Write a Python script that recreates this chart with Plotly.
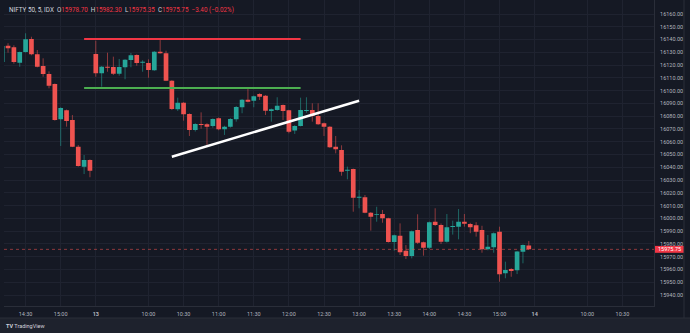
import plotly.graph_objects as go

# ---------------- data ----------------
bar_index = list(range(-16, 75))  # 0 = 13th 09:15, negatives = 12th afternoon

opens = [16122.4, 16135.2, 16133.9, 16121.9, 16130.3, 16140.4, 16128.4, 16119.3,
         16113.0, 16105.2, 16077.6, 16084.6, 16077.0, 16056.1, 16040.5, 16045.7,
         16128.7, 16113.6, 16118.7, 16118.5, 16113.3, 16118.3, 16124.0, 16127.9,
         16121.8, 16121.6, 16115.9, 16130.5, 16129.2, 16107.8, 16085.4, 16090.6,
         16081.7, 16069.2, 16073.9, 16073.6, 16072.3, 16078.3, 16069.7, 16071.8,
         16077.6, 16086.9, 16092.9, 16092.1, 16097.4, 16096.0, 16084.1, 16084.8,
         16088.8, 16084.6, 16068.7, 16072.3, 16084.1, 16084.8, 16080.1, 16074.4,
         16071.8, 16056.1, 16053.5, 16037.3, 16038.6, 16016.2, 16016.5, 16004.4,
         16002.6, 16003.4, 16000.0, 15981.5, 15986.4, 15974.7, 15970.5, 15990.9,
         15981.3, 15977.0, 15997.4, 15994.8, 15981.7, 15993.3, 15993.5, 15997.4,
         15995.6, 15994.6, 15990.9, 15975.8, 15977.3, 15989.6, 15957.0, 15960.4,
         15959.4, 15973.9, 15978.70]
highs = [16135.5, 16137.1, 16135.5, 16130.6, 16144.9, 16142.2, 16131.8, 16125.3,
         16115.1, 16105.6, 16087.0, 16085.2, 16080.9, 16057.4, 16049.6, 16046.2,
         16139.1, 16119.3, 16129.7, 16126.6, 16124.8, 16124.6, 16129.5, 16128.4,
         16123.8, 16124.5, 16131.0, 16139.6, 16131.3, 16108.2, 16094.5, 16091.0,
         16082.2, 16074.5, 16083.0, 16074.5, 16078.3, 16079.0, 16072.5, 16078.5,
         16088.0, 16093.5, 16101.8, 16096.2, 16098.0, 16096.5, 16086.0, 16094.8,
         16089.2, 16085.0, 16073.0, 16094.5, 16094.8, 16090.1, 16090.1, 16075.0,
         16072.2, 16064.5, 16057.2, 16040.5, 16039.0, 16022.2, 16018.3, 16005.0,
         16009.1, 16006.6, 16000.5, 15987.3, 15996.1, 15979.1, 15990.5, 16003.2,
         15981.8, 15997.5, 16007.9, 15996.0, 16003.4, 15998.2, 16007.3, 16003.4,
         15996.5, 15997.0, 15994.2, 15987.0, 15989.0, 15993.5, 15966.1, 15961.0,
         15974.5, 15979.6, 15982.30]
lows = [16121.5, 16129.7, 16121.1, 16118.7, 16129.8, 16127.7, 16118.2, 16110.9,
        16101.8, 16076.5, 16056.7, 16071.8, 16055.8, 16040.5, 16034.7, 16032.2,
        16110.9, 16103.1, 16114.8, 16112.2, 16111.7, 16108.9, 16118.3, 16119.5,
        16114.8, 16110.1, 16115.5, 16129.0, 16107.5, 16084.8, 16084.1, 16076.5,
        16064.5, 16068.0, 16070.2, 16057.4, 16071.0, 16069.0, 16065.3, 16071.0,
        16075.7, 16082.3, 16090.8, 16087.0, 16092.7, 16080.9, 16075.7, 16084.3,
        16077.0, 16066.6, 16066.1, 16072.0, 16082.7, 16075.7, 16073.2, 16064.5,
        16055.2, 16050.9, 16033.4, 16030.6, 16005.2, 16007.9, 16004.0, 15990.4,
        15997.4, 15996.6, 15981.0, 15974.7, 15971.3, 15968.2, 15968.7, 15980.0,
        15970.8, 15976.0, 15994.0, 15979.9, 15981.0, 15987.3, 15983.6, 15993.5,
        15988.4, 15985.7, 15973.1, 15975.0, 15973.1, 15950.4, 15953.1, 15954.3,
        15956.4, 15964.8, 15975.35]
closes = [16134.9, 16133.1, 16122.4, 16130.3, 16140.2, 16128.4, 16118.7, 16113.0,
          16103.9, 16077.0, 16086.4, 16076.2, 16056.1, 16041.0, 16045.7, 16037.3,
          16113.6, 16118.7, 16117.9, 16113.3, 16118.5, 16124.2, 16127.7, 16121.6,
          16122.6, 16116.2, 16130.5, 16129.2, 16107.8, 16085.6, 16090.6, 16081.5,
          16069.2, 16073.9, 16073.1, 16071.8, 16077.8, 16069.7, 16071.8, 16077.8,
          16087.2, 16092.9, 16091.3, 16095.6, 16095.3, 16084.3, 16085.4, 16088.2,
          16084.1, 16067.9, 16072.3, 16084.8, 16084.9, 16080.1, 16073.6, 16071.8,
          16055.6, 16054.1, 16036.5, 16038.1, 16016.2, 16017.0, 16004.4, 16001.3,
          16003.3, 16000.0, 15981.5, 15986.7, 15973.4, 15970.5, 15989.9, 15981.0,
          15977.0, 15996.9, 15994.8, 15981.7, 15993.0, 15994.0, 15997.4, 15995.8,
          15993.0, 15989.6, 15975.8, 15977.8, 15988.3, 15956.2, 15959.6, 15958.8,
          15974.0, 15979.15, 15975.75]

x_tick_vals = [-12, -6, 0, 9, 15, 21, 27, 33, 39, 45, 51, 57, 63, 69, 75, 84, 90]
x_tick_text = ["14:30", "15:00", "<b>13</b>", "10:00", "10:30", "11:00", "11:30",
               "12:00", "12:30", "13:00", "13:30", "14:00", "14:30", "15:00",
               "<b>14</b>", "10:00", "10:30"]
price_ticks = [15940, 15950, 15960, 15970, 15980, 15990, 16000, 16010, 16020,
               16030, 16040, 16050, 16060, 16070, 16080, 16090, 16100, 16110,
               16120, 16130, 16140, 16150, 16160]

resistance_x = [-2, 35]
resistance_y = [16140.4, 16140.4]
support_x = [-2, 35]
support_y = [16102.1, 16102.1]
trend_x = [13, 45]
trend_y = [16048.3, 16092.1]

symbol = "NIFTY 50, 5, IDX"

# ---------------- style ----------------
BG = "#151924"
GRID = "#1f2330"
BORDER = "#2a2e39"
TEXT = "#b2b5be"
UP = "#26a69a"
DOWN = "#ef5350"
FONT = "Roboto"

W, H = 690, 333
L, R, T, B = 4, 36, 0, 27
pw = W - L - R
ph = H - T - B


def px_x(p):
    return (p - L) / pw


def px_y(p):
    return (ph - p) / ph


fig = go.Figure()

# wicks (dimmer than bodies)
for colour, is_up in ((DOWN, False), (UP, True)):
    wx, wy = [], []
    for i, o, h, lo, c in zip(bar_index, opens, highs, lows, closes):
        if (c >= o) == is_up:
            wx += [i, i, None]
            wy += [lo, h, None]
    fig.add_trace(go.Scatter(x=wx, y=wy, mode="lines",
                             line=dict(color=colour, width=1),
                             opacity=0.55, hoverinfo="skip", showlegend=False))

fig.add_trace(go.Candlestick(
    x=bar_index, open=opens, high=highs, low=lows, close=closes,
    increasing=dict(line=dict(color=UP, width=0), fillcolor=UP),
    decreasing=dict(line=dict(color=DOWN, width=0), fillcolor=DOWN),
    showlegend=False, hoverinfo="skip"))

# drawings
fig.add_trace(go.Scatter(x=resistance_x, y=resistance_y, mode="lines",
                         line=dict(color="#f23645", width=2), showlegend=False,
                         hoverinfo="skip"))
fig.add_trace(go.Scatter(x=support_x, y=support_y, mode="lines",
                         line=dict(color="#4caf50", width=2), showlegend=False,
                         hoverinfo="skip"))
fig.add_trace(go.Scatter(x=trend_x, y=trend_y, mode="lines",
                         line=dict(color="#ffffff", width=2.5), showlegend=False,
                         hoverinfo="skip"))

last_close = closes[-1]
prev_close = closes[-2]
chg = last_close - prev_close
pct = chg / prev_close * 100

shapes = [
    # current price dotted line
    dict(type="line", xref="paper", yref="y", x0=0, x1=1, y0=last_close, y1=last_close,
         line=dict(color="rgba(239,83,80,0.55)", width=1, dash="dot")),
    # price tag
    dict(type="rect", xref="paper", yref="y", x0=px_x(655), x1=px_x(684),
         y0=last_close - 2.7, y1=last_close + 2.7,
         fillcolor="#f23645", line=dict(width=0)),
    # pane borders
    dict(type="line", xref="paper", yref="paper", x0=px_x(684), x1=px_x(684),
         y0=px_y(318), y1=1, line=dict(color=BORDER, width=1)),
    dict(type="rect", xref="paper", yref="paper", x0=px_x(0), x1=px_x(690),
         y0=px_y(333), y1=px_y(318), fillcolor="#1e222d", line=dict(width=0)),
    dict(type="line", xref="paper", yref="paper", x0=px_x(0), x1=px_x(690),
         y0=px_y(318), y1=px_y(318), line=dict(color=BORDER, width=1)),
]

sign = "\u2212" if chg < 0 else "+"
red = "#f23645"
header = (f"<span style='color:#d1d4dc'>{symbol}</span>&nbsp; "
          f"O<span style='color:{red}'>{opens[-1]:.2f}</span>&nbsp; "
          f"H<span style='color:{red}'>{highs[-1]:.2f}</span>&nbsp; "
          f"L<span style='color:{red}'>{lows[-1]:.2f}</span>&nbsp; "
          f"C<span style='color:{red}'>{closes[-1]:.2f}</span>&nbsp; "
          f"<span style='color:{red}'>{sign}{abs(chg):.2f} ({sign}{abs(pct):.2f}%)</span>")

annotations = [
    dict(text=header, xref="paper", yref="paper", x=px_x(7), y=px_y(10),
         xanchor="left", yanchor="middle", showarrow=False,
         font=dict(family=FONT, size=6.3, color="#d1d4dc")),
    dict(text=f"{last_close:.2f}", xref="paper", yref="y", x=px_x(669.5), y=last_close,
         xanchor="center", yanchor="middle", showarrow=False,
         font=dict(family=FONT, size=5.5, color="#ffffff")),
    dict(text="<b>TV</b> TradingView", xref="paper", yref="paper", x=px_x(4), y=px_y(325.5),
         xanchor="left", yanchor="middle", showarrow=False,
         font=dict(family=FONT, size=5.5, color="#d1d4dc")),
]

fig.update_layout(
    width=W, height=H,
    margin=dict(l=L, r=R, t=T, b=B, autoexpand=False),
    paper_bgcolor=BG, plot_bgcolor=BG,
    boxgap=0.2, boxgroupgap=0,
    showlegend=False,
    shapes=shapes, annotations=annotations,
    font=dict(family=FONT, size=5.5, color=TEXT),
    xaxis=dict(range=[-15.69, 95.40], tickvals=x_tick_vals, ticktext=x_tick_text,
               showgrid=True, gridcolor=GRID, gridwidth=1, zeroline=False,
               showline=True, linecolor=BORDER, linewidth=1,
               rangeslider=dict(visible=False), ticks="", ticklabelstandoff=2,
               tickfont=dict(family=FONT, size=5.5, color=TEXT), automargin=False,
               fixedrange=True),
    yaxis=dict(range=[15931.40, 16170.96], side="right", tickvals=price_ticks,
               ticktext=[f"{p:.2f}" for p in price_ticks],
               showgrid=True, gridcolor=GRID, gridwidth=1, zeroline=False,
               showline=True, linecolor=BORDER, linewidth=1, ticks="",
               ticklabelstandoff=4,
               tickfont=dict(family=FONT, size=5.5, color=TEXT), automargin=False,
               fixedrange=True),
)

fig.write_html("out.html")
